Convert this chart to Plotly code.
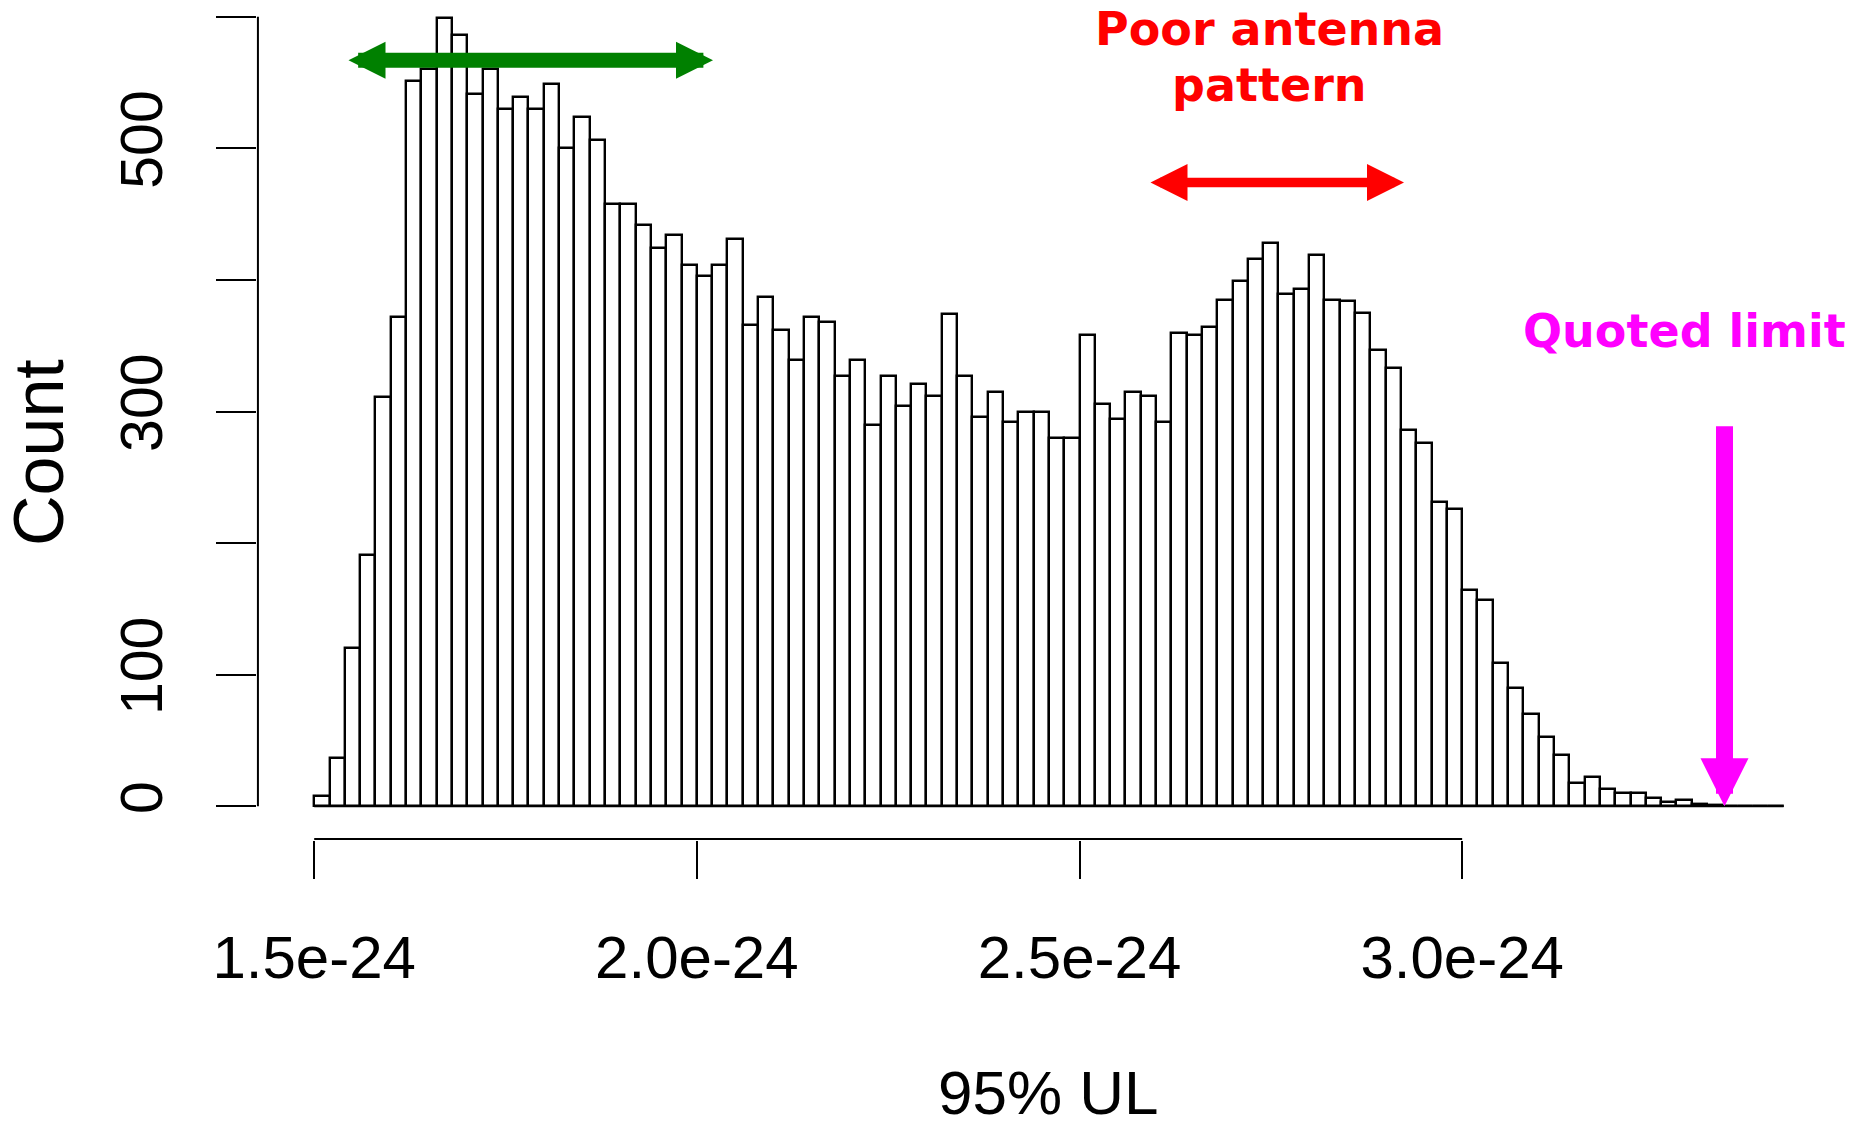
import plotly.graph_objects as go

# ---- data ----
bin_start = 1.5e-24
bin_width = 0.02e-24
counts = [8, 37, 120, 191, 311, 372, 551, 560, 599, 586,
          541, 560, 530, 539, 530, 549, 500, 524, 506, 458,
          458, 442, 424, 434, 411, 403, 411, 431, 366, 387,
          362, 339, 372, 368, 327, 339, 290, 327, 304, 321,
          312, 374, 327, 296, 315, 292, 300, 300, 280, 280,
          358, 306, 294, 315, 312, 292, 360, 358, 364, 385,
          399, 416, 428, 389, 393, 419, 385, 384, 375, 347,
          333, 286, 276, 231, 226, 164, 157, 109, 90, 70,
          53, 39, 18, 22, 13, 10, 10, 6, 3, 5,
          2, 1, 0, 0, 0, 0]
x_tickvals = [1.5e-24, 2.0e-24, 2.5e-24, 3.0e-24]
x_ticktext = ["1.5e-24", "2.0e-24", "2.5e-24", "3.0e-24"]
y_tickvals = [0, 100, 200, 300, 400, 500, 600]
y_ticktext = ["0", "100", "", "300", "", "500", ""]

# annotation anchors (data units)
green_span = [1.5429e-24, 2.0211e-24]
green_y = 567
red_span = [2.5908e-24, 2.9240e-24]
red_y = 474
quoted_x = 3.3428e-24
quoted_top = 290

centers = [bin_start + (i + 0.5) * bin_width for i in range(len(counts))]
edges_lo = bin_start
edges_hi = bin_start + len(counts) * bin_width

W, H = 1873, 1131
L, R, T, B = 257, 73, 0, 291
PW, PH = W - L - R, H - T - B

fig = go.Figure()
fig.add_trace(go.Bar(
    x=centers, y=counts, width=[bin_width] * len(counts),
    marker=dict(color="white", line=dict(color="black", width=2.4)),
    showlegend=False, hoverinfo="x+y",
))

fig.update_layout(
    width=W, height=H,
    margin=dict(l=L, r=R, t=T, b=B, pad=0),
    paper_bgcolor="white", plot_bgcolor="white",
    bargap=0,
    xaxis=dict(
        range=[1.42526e-24, 3.44146e-24],
        tickmode="array", tickvals=x_tickvals, ticktext=x_ticktext,
        ticks="outside", ticklen=38, tickwidth=2, tickcolor="black",
        showline=False, showgrid=False, zeroline=False,
        tickfont=dict(family="Liberation Sans, Arial, sans-serif", size=60, color="black"),
        ticklabelstandoff=27,
    ),
    yaxis=dict(
        range=[-25.6, 612.7],
        tickmode="array", tickvals=y_tickvals, ticktext=y_ticktext,
        ticks="outside", ticklen=40, tickwidth=2, tickcolor="black",
        showline=False, showgrid=False, zeroline=False,
        tickangle=-90,
        tickfont=dict(family="Liberation Sans, Arial, sans-serif", size=59, color="black"),
        ticklabelstandoff=30,
    ),
)

# R-style detached axis lines (span tick range only) and histogram baseline
fig.add_shape(type="line", xref="x", yref="paper", x0=x_tickvals[0], x1=x_tickvals[-1],
              y0=0.0012, y1=0.0012, line=dict(color="black", width=2))
fig.add_shape(type="line", xref="paper", yref="y", x0=0.0006, x1=0.0006,
              y0=y_tickvals[0], y1=y_tickvals[-1], line=dict(color="black", width=2))
fig.add_shape(type="line", xref="x", yref="y", x0=edges_lo, x1=edges_hi,
              y0=0, y1=0, line=dict(color="black", width=2))

# axis titles
fig.add_annotation(text="Count", xref="paper", yref="paper", x=(39 - L) / PW,
                   y=1 - 452 / PH, textangle=-90, showarrow=False,
                   xanchor="center", yanchor="middle",
                   font=dict(family="Liberation Sans, Arial, sans-serif", size=70, color="black"))
fig.add_annotation(text="95% UL", xref="paper", yref="paper", x=(1048 - L) / PW,
                   y=1 - 1092 / PH, showarrow=False,
                   xanchor="center", yanchor="middle",
                   font=dict(family="Liberation Sans, Arial, sans-serif", size=62, color="black"))

bold = dict(family="DejaVu Sans, Verdana, sans-serif", size=46, weight="bold")
fig.add_annotation(text="<b>Poor antenna</b>", xref="paper", yref="paper",
                   x=(1269 - L) / PW, y=1 - 29 / PH, showarrow=False,
                   xanchor="center", yanchor="middle", font=dict(**bold, color="#ff0000"))
fig.add_annotation(text="<b>pattern</b>", xref="paper", yref="paper",
                   x=(1269 - L) / PW, y=1 - 85 / PH, showarrow=False,
                   xanchor="center", yanchor="middle", font=dict(**bold, color="#ff0000"))
fig.add_annotation(text="<b>Quoted limit</b>", xref="paper", yref="paper",
                   x=(1684.5 - L) / PW, y=1 - 331 / PH, showarrow=False,
                   xanchor="center", yanchor="middle", font=dict(**bold, color="#ff00ff"))

# arrows
def double_arrow(x0, x1, y, color, width, head):
    size = head / 5.0 / width
    fig.add_annotation(x=x1, y=y, ax=x0, ay=y, xref="x", yref="y", axref="x", ayref="y",
                       text="", showarrow=True, arrowside="end+start",
                       arrowhead=2, startarrowhead=2, arrowsize=size, startarrowsize=size,
                       arrowwidth=width, arrowcolor=color, standoff=0, startstandoff=0,
                       font=dict(size=1))

double_arrow(green_span[0], green_span[1], green_y, "#008000", 15, 37)
double_arrow(red_span[0], red_span[1], red_y, "#ff0000", 9.5, 37)

mw, mh = 17, 48
fig.add_annotation(x=quoted_x, y=0, ax=quoted_x, ay=quoted_top, xref="x", yref="y",
                   axref="x", ayref="y", text="", showarrow=True, arrowhead=2,
                   arrowsize=mh / 5.0 / mw, arrowwidth=mw, arrowcolor="#ff00ff",
                   standoff=0, font=dict(size=1))

fig.write_html("out.html")
